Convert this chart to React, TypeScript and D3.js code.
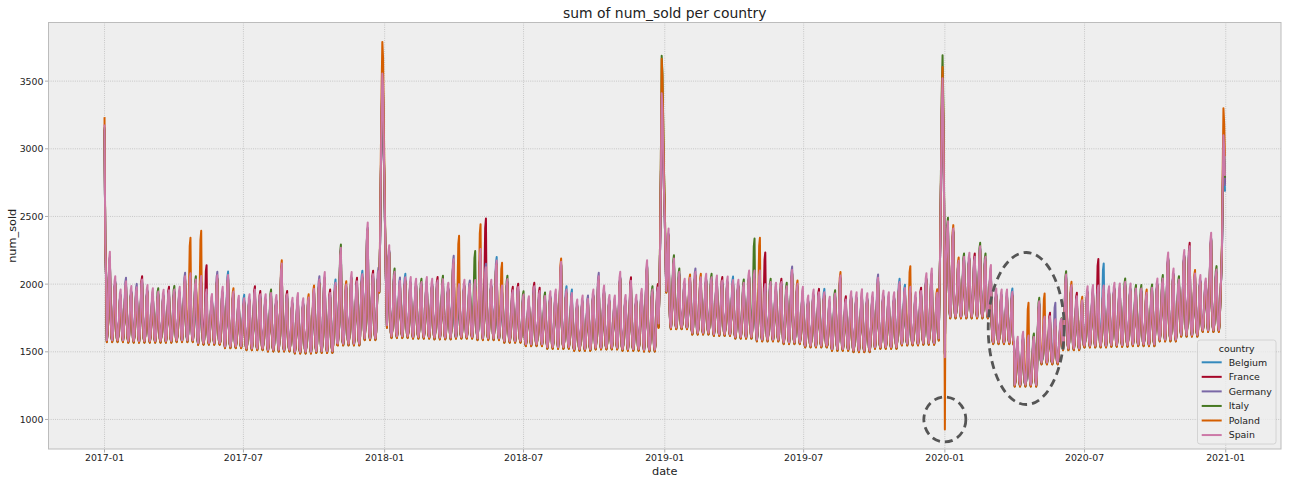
import * as d3 from "d3";

const countries = ["Belgium", "France", "Germany", "Italy", "Poland", "Spain"];
const colors = ["#348ABD", "#A60628", "#7A68A6", "#467821", "#D55E00", "#CC79A7"];
const leaderCodes = "brpgos";

// weekly peak of the top line (Mon-start weeks; week 0 is 2017-01-01)
const peaks2017 = [
  2240, 2059, 1961, 2047, 1986, 2002, 2059, 1993, 1970, 1970,
  1958, 1980, 1986, 1980, 2084, 2080, 2059, 2060, 1960, 1927,
  2091, 1980, 2093, 1970, 1914, 1921, 1926, 1985, 1950, 1926,
  1960, 1920, 2177, 1950, 1900, 1935, 1896, 1926, 1990, 2059,
  2089, 1960, 2035, 2293, 2022, 2089, 2047, 2099, 2456, 2099,
  2121, 2100,
];
const peaks2018 = [
  2288, 2116, 2049, 2076, 2052, 2040, 2040, 2052, 2040, 2052,
  2062, 2010, 2209, 2000, 2032, 2027, 2030, 2260, 2150, 2032,
  2200, 1990, 2062, 1980, 2003, 1948, 1911, 2010, 1974, 1938,
  1948, 1960, 2190, 1985, 1960, 1887, 1916, 1916, 1960, 2084,
  1990, 1920, 1916, 2091, 1920, 2050, 1921, 1965, 2177, 1985,
  2000, 2000,
];
const peaks2019 = [
  2411, 2214, 2116, 2040, 2072, 2116, 2076, 2076, 2076, 2064,
  2052, 2056, 2056, 2032, 2035, 2101, 2100, 2100, 2000, 2040,
  2010, 2040, 2010, 2130, 2027, 1980, 1916, 1960, 1965, 1965,
  1906, 1955, 2089, 1911, 1948, 1940, 1962, 1933, 1940, 2072,
  1952, 1940, 1940, 2040, 1996, 1980, 1940, 1974, 2081, 2116,
  1962, 2000,
];
const peaks2020 = [
  2490, 2436, 2197, 2227, 2232, 2227, 2305, 2227, 2141, 1968,
  1961, 1961, 1968, 1611, 1648, 1620, 1635, 1899, 1760, 1788,
  1740, 1734, 2096, 2017, 1936, 1906, 1985, 1993, 1990, 1990,
  1985, 2010, 2005, 2042, 2005, 1993, 1993, 1961, 1998, 2042,
  2067, 2234, 2116, 2059, 2252, 2305, 2104, 2067, 2042, 2380,
  2133, 2150, 2800,
];
// which country shows on top of each weekly peak
const leaders2017 = "sssps" + "prssg" + "srgsp" + "sgsss" + "psbos" + "bsrrs" + "gsors" + "ssoop" + "srbgo" + "srbsr" + "ps";
const leaders2018 = "sgpbs" + "sgssr" + "gspss" + "pssps" + "bsgrr" + "gsrrg" + "ssobb" + "sspsp" + "sssss" + "rsssg" + "rs";
const leaders2019 = "sggso" + "posgs" + "rsbsg" + "ssssg" + "srgpo" + "sssrb" + "sgors" + "ssssp" + "sssbb" + "ssrss" + "os";
const leaders2020 = "googs" + "rggss" + "ssbss" + "sggsr" + "ssgor" + "ossss" + "sssgs" + "ggogs" + "gssgs" + "rosss" + "gss";

// weekday troughs per month, 2017-01 .. 2020-12
const monthlyLows = [
  1585, 1580, 1580, 1585, 1565, 1540, 1525, 1515, 1500, 1505, 1560, 1600,
  1615, 1610, 1605, 1610, 1600, 1580, 1555, 1535, 1520, 1530, 1520, 1515,
  1680, 1640, 1630, 1610, 1590, 1570, 1545, 1520, 1510, 1535, 1560, 1565,
  1760, 1760, 1570, 1256, 1420, 1525, 1545, 1550, 1555, 1590, 1625, 1660,
];
const lowOffset = [-12, -6, 4, -9, -14, 0];
const belowLeaderGap = [45, 50, 40, 55, 60, 25];

// single countries sticking far above the others: [year, week, country, value]
const outliers: [number, number, string, number][] = [
  [2017, 16, "Poland", 2342], [2017, 18, "Poland", 2394], [2017, 19, "France", 2140],
  [2018, 14, "Poland", 2357], [2018, 17, "Italy", 2244], [2018, 18, "Poland", 2443],
  [2018, 19, "France", 2485], [2018, 22, "Poland", 2158],
  [2019, 17, "Italy", 2337], [2019, 18, "Poland", 2342], [2019, 19, "France", 2234],
  [2019, 46, "Poland", 2133],
  [2020, 16, "Poland", 1862], [2020, 19, "Poland", 1931], [2020, 21, "Germany", 1862],
  [2020, 29, "France", 2185], [2020, 30, "Belgium", 2153],
];

// year-end spikes: first day, daily values of Spain, top of each country
const spikeStarts = ["2017-01-01", "2017-12-25", "2018-12-25", "2019-12-25", "2020-12-26"];
const spikeSpain = [
  [3180, 2300, 2050],
  [1950, 2300, 2800, 3250, 3557, 3450, 3000, 2650, 2250, 1950],
  [1950, 2300, 2800, 3410, 3300, 3000, 2700, 2500, 2200, 1950],
  [1950, 2300, 2800, 3300, 3522, 3200, 2600, 1460, 2150, 2250],
  [2050, 2250, 2700, 3100, 3000, 2800],
];
const spikeTops = [
  [3150, 3500, 3400, 3480, 2940],
  [3140, 3480, 3380, 3500, 3020],
  [3120, 3450, 3390, 3470, 3000],
  [3160, 3520, 3687, 3692, 3080],
  [3234, 3790, 3665, 3605, 3300],
  [3180, 3557, 3410, 3522, 3100],
];
const dipDate = "2020-01-01";
const dipValues = [1490, 1485, 1495, 1480, 925, 1460];

// share of the way from trough to peak, Sun..Sat
const weekdayShape = [1.0, 0.4, 0.08, 0, 0.12, 0.5, 0.92];

const xTicks = ["2017-01", "2017-07", "2018-01", "2018-07", "2019-01", "2019-07", "2020-01", "2020-07", "2021-01"];
const yTicks = [1000, 1500, 2000, 2500, 3000, 3500];

const parse = d3.utcParse("%Y-%m-%d");
const fmt = d3.utcFormat("%Y-%m-%d");
const first = parse("2017-01-01") as Date;
const days = d3.utcDay.range(first, parse("2021-01-01") as Date);

const weeklyPeaks = [3180, ...peaks2017, ...peaks2018, ...peaks2019, ...peaks2020];
const weeklyLeaders = "s" + leaders2017 + leaders2018 + leaders2019 + leaders2020;
const yearWeekOffset: Record<number, number> = { 2017: 0, 2018: 52, 2019: 104, 2020: 156 };

const spikeDays = new Map<string, [number, number]>();
spikeStarts.forEach((s, k) => {
  const d0 = parse(s) as Date;
  spikeSpain[k].forEach((v, j) => spikeDays.set(fmt(d3.utcDay.offset(d0, j)), [k, v]));
});

const series = countries.map((name, c) =>
  days.map((date, i) => {
    const key = fmt(date);
    if (key === dipDate) return { date, value: dipValues[c] };
    const sp = spikeDays.get(key);
    if (sp) {
      const [k, v] = sp;
      const top = spikeTops[5][k];
      const value = v > 2000 ? 2000 + ((v - 2000) * (spikeTops[c][k] - 2000)) / (top - 2000) : v + lowOffset[c];
      return { date, value };
    }
    const w = Math.floor((i + 6) / 7);
    const m = (date.getUTCFullYear() - 2017) * 12 + date.getUTCMonth();
    const leader = leaderCodes.indexOf(weeklyLeaders[w]);
    let peak = leader === c ? weeklyPeaks[w] : weeklyPeaks[w] - belowLeaderGap[c];
    const out = outliers.find((o) => o[2] === name && yearWeekOffset[o[0]] + o[1] === w);
    if (out) peak = out[3];
    const low = monthlyLows[m] + lowOffset[c];
    return { date, value: low + weekdayShape[date.getUTCDay()] * (peak - low) };
  })
);

const L = 48.5, R = 1281, T = 22.5, B = 449;
const font = "DejaVu Sans, sans-serif";

export default function App() {
  const x = d3
    .scaleUtc()
    .domain([d3.utcDay.offset(days[0], -73), d3.utcDay.offset(days[days.length - 1], 73)])
    .range([L, R]);
  const ext = d3.extent(series.flat(), (d) => d.value) as [number, number];
  const pad = (ext[1] - ext[0]) * 0.05;
  const y = d3.scaleLinear().domain([ext[0] - pad, ext[1] + pad]).range([B, T]);
  const line = d3
    .line<{ date: Date; value: number }>()
    .x((d) => x(d.date))
    .y((d) => y(d.value));
  const monthParse = d3.utcParse("%Y-%m");

  const lgX = 1197.5, lgY = 340;

  return (
    <svg width={1290} height={484} style={{ position: "absolute", left: 0, top: 0 }} fontFamily={font}>
      <rect x={0} y={0} width={1290} height={484} fill="#ffffff" />
      <rect x={L} y={T} width={R - L} height={B - T} fill="#eeeeee" />
      {xTicks.map((t) => {
        const px = x(monthParse(t) as Date);
        return (
          <g key={t}>
            <line x1={px} x2={px} y1={T} y2={B} stroke="#b2b2b2" strokeWidth={0.8} strokeDasharray="0.8,1.4" />
            <line x1={px} x2={px} y1={B} y2={B + 3.5} stroke="#9a9a9a" strokeWidth={0.8} />
            <text x={px} y={460.5} fontSize={9.4} textAnchor="middle" fill="#222">
              {t}
            </text>
          </g>
        );
      })}
      {yTicks.map((t) => {
        const py = y(t);
        return (
          <g key={t}>
            <line x1={L} x2={R} y1={py} y2={py} stroke="#b2b2b2" strokeWidth={0.8} strokeDasharray="0.8,1.4" />
            <line x1={L - 3.5} x2={L} y1={py} y2={py} stroke="#9a9a9a" strokeWidth={0.8} />
            <text x={L - 5} y={py + 3.4} fontSize={9.4} textAnchor="end" fill="#222">
              {t}
            </text>
          </g>
        );
      })}
      <g clipPath="url(#plot)">
        <clipPath id="plot">
          <rect x={L} y={T} width={R - L} height={B - T} />
        </clipPath>
        {series.map((s, c) => (
          <path
            key={countries[c]}
            d={line(s) ?? ""}
            fill="none"
            stroke={colors[c]}
            strokeWidth={2}
            strokeLinejoin="round"
          />
        ))}
      </g>
      <rect x={L} y={T} width={R - L} height={B - T} fill="none" stroke="#bcbcbc" strokeWidth={1} />

      {/* hand-drawn marks on the picture */}
      <ellipse
        cx={x(parse("2020-01-01") as Date)}
        cy={y(1000)}
        rx={21}
        ry={22.5}
        fill="none"
        stroke="#555555"
        strokeWidth={2.8}
        strokeDasharray="8,5"
      />
      <ellipse
        cx={x(parse("2020-04-16") as Date)}
        cy={y(1672)}
        rx={38}
        ry={76}
        fill="none"
        stroke="#555555"
        strokeWidth={2.8}
        strokeDasharray="8,5"
      />

      <text x={(L + R) / 2} y={18} fontSize={13.9} textAnchor="middle" fill="#222">
        sum of num_sold per country
      </text>
      <text x={(L + R) / 2} y={475} fontSize={11.3} textAnchor="middle" fill="#222">
        date
      </text>
      <text transform={`translate(16,${(T + B) / 2}) rotate(-90)`} fontSize={11.3} textAnchor="middle" fill="#222">
        num_sold
      </text>

      <rect x={lgX} y={lgY} width={78.5} height={104} rx={2.5} fill="#eeeeee" fillOpacity={0.8} stroke="#cccccc" strokeWidth={0.8} />
      <text x={lgX + 39.2} y={351.5} fontSize={9.4} textAnchor="middle" fill="#222">
        country
      </text>
      {countries.map((name, c) => {
        const ly = 362.3 + c * 14.55;
        return (
          <g key={name}>
            <line x1={1201.7} x2={1221.7} y1={ly} y2={ly} stroke={colors[c]} strokeWidth={2} />
            <text x={1228.7} y={ly + 3.4} fontSize={9.4} fill="#222">
              {name}
            </text>
          </g>
        );
      })}
    </svg>
  );
}
